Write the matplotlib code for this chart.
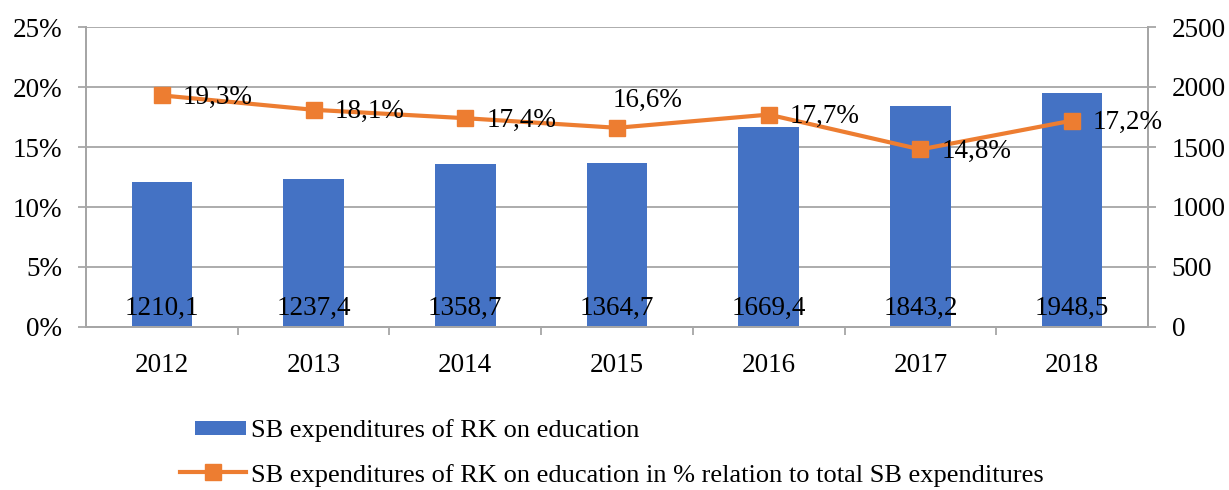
import matplotlib
matplotlib.use("Agg")
import matplotlib.pyplot as plt
from matplotlib.patches import Rectangle
from matplotlib.legend_handler import HandlerPatch
from matplotlib.ticker import FuncFormatter, MultipleLocator, FixedLocator
import numpy as np

years = ["2012", "2013", "2014", "2015", "2016", "2017", "2018"]
spending = [1210.1, 1237.4, 1358.7, 1364.7, 1669.4, 1843.2, 1948.5]
share_pct = [19.3, 18.1, 17.4, 16.6, 17.7, 14.8, 17.2]
bar_label_text = ["1210,1", "1237,4", "1358,7", "1364,7", "1669,4", "1843,2", "1948,5"]
pct_label_text = ["19,3%", "18,1%", "17,4%", "16,6%", "17,7%", "14,8%", "17,2%"]
bar_name = "SB expenditures of RK on education"
line_name = "SB expenditures of RK on education in % relation to total SB expenditures"

BLUE = "#4472C4"
ORANGE = "#ED7D31"
GRID = "#a6a6a6"
FS = 19.5
LEG_FS = 19

plt.rcParams["font.family"] = ["Liberation Serif", "DejaVu Serif"]

fig = plt.figure(figsize=(12.29, 4.90), dpi=100)
W, H = 1229, 490
ax = fig.add_axes([86 / W, 1 - 327 / H, (1148 - 86) / W, 300 / H])
x = np.arange(len(years))

bars = ax.bar(x, spending, width=0.4, color=BLUE, zorder=2, label=bar_name)
ax.set_xlim(-0.5, len(years) - 0.5)
ax.set_ylim(0, 2500)
ax.yaxis.tick_right()
ax.yaxis.set_major_locator(MultipleLocator(500))
ax.grid(axis="y", color=GRID, linewidth=1.3, zorder=0)
ax.set_axisbelow(True)

for xi, t in zip(x, bar_label_text):
    ax.annotate(t, xy=(xi, 0), xytext=(0, 13.5), textcoords="offset points",
                ha="center", va="center", fontsize=FS, color="black", zorder=5)

ax2 = ax.twinx()
ax2.yaxis.tick_left()
ax2.set_ylim(0, 25)
ax2.yaxis.set_major_locator(MultipleLocator(5))
ax2.yaxis.set_major_formatter(FuncFormatter(lambda v, p: f"{v:.0f}%"))
line, = ax2.plot(x, share_pct, color=ORANGE, linewidth=3, marker="s",
                 markersize=11, zorder=4, label=line_name)

offsets = [(15, -1.5)] * len(years)
offsets[3] = (-3, 20)
for xi, v, t, off in zip(x, share_pct, pct_label_text, offsets):
    ax2.annotate(t, xy=(xi, v), xytext=off, textcoords="offset points",
                 ha="left", va="center", fontsize=FS, color="black", zorder=6)

for a in (ax, ax2):
    a.spines["top"].set_visible(False)
    for s in ("left", "right", "bottom"):
        a.spines[s].set_color(GRID)
        a.spines[s].set_linewidth(1.3)

ax.tick_params(axis="y", which="major", direction="out", length=6, width=1.3,
               color=GRID, labelsize=FS, pad=11, right=True, left=False,
               labelright=True, labelleft=False)
ax2.tick_params(axis="y", which="major", direction="out", length=6, width=1.3,
                color=GRID, labelsize=FS, pad=11, left=True, right=False,
                labelleft=True, labelright=False)

ax.set_xticks(x)
ax.set_xticklabels(years)
ax.tick_params(axis="x", which="major", length=0, labelsize=FS, pad=19)
ax.xaxis.set_minor_locator(FixedLocator(np.arange(0.5, len(years) - 1, 1.0)))
ax.tick_params(axis="x", which="minor", length=6, width=1.3, color=GRID, direction="out")


class NarrowPatchHandler(HandlerPatch):
    def create_artists(self, legend, orig_handle, xdescent, ydescent, width,
                       height, fontsize, trans):
        w = width * 0.78
        h = 10
        p = Rectangle((width - w - xdescent, height / 2 - h / 2 - ydescent), w, h,
                      facecolor=BLUE, edgecolor="none", transform=trans)
        return [p]


fig.legend([bars.patches[0], line], [bar_name, line_name], loc="upper left",
           bbox_to_anchor=(180 / W, 1 - 419 / H), frameon=False, fontsize=LEG_FS,
           handlelength=2.5, handletextpad=0.2, labelspacing=0.78,
           borderpad=0, borderaxespad=0,
           handler_map={Rectangle: NarrowPatchHandler()})

fig.savefig("out.png", dpi=100)
